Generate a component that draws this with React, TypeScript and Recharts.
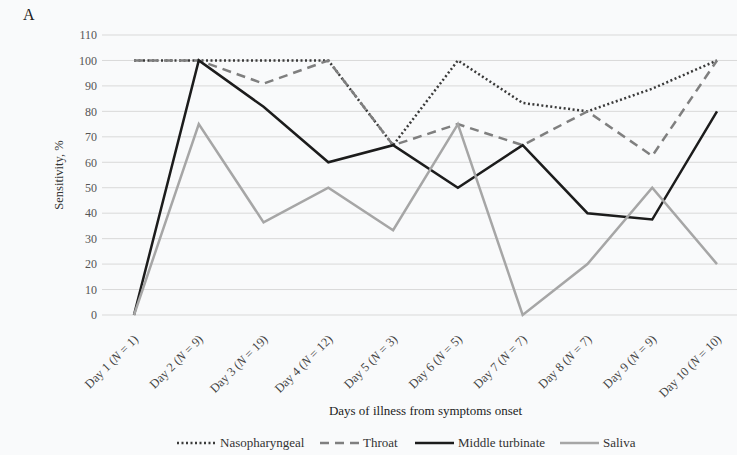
import React from "react";
import { LineChart, Line, CartesianGrid, XAxis, YAxis, Legend } from "recharts";

const days = [
  "Day 1 (N = 1)",
  "Day 2 (N = 9)",
  "Day 3 (N = 19)",
  "Day 4 (N = 12)",
  "Day 5 (N = 3)",
  "Day 6 (N = 5)",
  "Day 7 (N = 7)",
  "Day 8 (N = 7)",
  "Day 9 (N = 9)",
  "Day 10 (N = 10)",
];
const nasopharyngeal = [100, 100, 100, 100, 66.7, 100, 83.3, 80, 88.9, 100];
const throat = [100, 100, 90.9, 100, 66.7, 75, 66.7, 80, 62.5, 100];
const middleTurbinate = [0, 100, 81.8, 60, 66.7, 50, 66.7, 40, 37.5, 80];
const saliva = [0, 75, 36.4, 50, 33.3, 75, 0, 20, 50, 20];
const yTicks = [0, 10, 20, 30, 40, 50, 60, 70, 80, 90, 100, 110];

const series = [
  { key: "nasopharyngeal", name: "Nasopharyngeal", color: "#3a3a3a", dash: "2 2.5", width: 2.5, textW: 86 },
  { key: "throat", name: "Throat", color: "#7f7f7f", dash: "9 6", width: 2.5, textW: 38 },
  { key: "middleTurbinate", name: "Middle turbinate", color: "#1c1c1c", dash: undefined, width: 2.5, textW: 88 },
  { key: "saliva", name: "Saliva", color: "#a6a6a6", dash: undefined, width: 2.5, textW: 34 },
];

const data = days.map((day, i) => ({
  day,
  nasopharyngeal: nasopharyngeal[i],
  throat: throat[i],
  middleTurbinate: middleTurbinate[i],
  saliva: saliva[i],
}));

const FONT = "'Liberation Serif', 'DejaVu Serif', serif";

// Rotated day label with the italic N
const DayTick = (props: any) => {
  const { x, y, payload } = props;
  const parts = String(payload.value).split("N");
  return (
    <g transform={`translate(${x + 5},${y + 17}) rotate(-45)`}>
      <text textAnchor="end" fontFamily={FONT} fontSize={12.5} fill="#444">
        {parts[0]}
        <tspan fontStyle="italic">N</tspan>
        {parts[1]}
      </text>
    </g>
  );
};

// Legend drawn as svg so it shares the chart's text rendering
const LegendBox = () => {
  let cx = 0;
  const items = series.map((s) => {
    const x0 = cx;
    cx += 40 + 4 + s.textW + 13;
    return (
      <g key={s.key} transform={`translate(${x0},0)`}>
        <line
          x1={0}
          y1={10}
          x2={39}
          y2={10}
          stroke={s.color}
          strokeWidth={s.width}
          strokeDasharray={s.dash}
        />
        <text x={43} y={14} fontFamily={FONT} fontSize={13} fill="#333">
          {s.name}
        </text>
      </g>
    );
  });
  return (
    <svg width={520} height={20} style={{ display: "block" }}>
      {items}
    </svg>
  );
};

export default function App() {
  return (
    <div
      style={{
        position: "fixed",
        top: 0,
        left: 0,
        width: 737,
        height: 455,
        overflow: "hidden",
        background: "#f9fafb",
        fontFamily: FONT,
      }}
    >
      <div
        style={{
          position: "absolute",
          left: 23,
          top: 6,
          fontSize: 16,
          color: "#222",
        }}
      >
        A
      </div>
      <LineChart
        width={760}
        height={455}
        data={data}
        margin={{ top: 35, right: 11, bottom: 0, left: 0 }}
      >
        <CartesianGrid vertical={false} stroke="#d9d9d9" strokeWidth={1} />
        <XAxis
          dataKey="day"
          axisLine={false}
          tickLine={false}
          interval={0}
          height={118}
          padding={{ left: 32, right: 32 }}
          tick={<DayTick />}
          label={{
            value: "Days of illness from symptoms onset",
            position: "insideBottom",
            offset: 18,
            fontFamily: FONT,
            fontSize: 13,
            fill: "#222",
          }}
        />
        <YAxis
          width={102}
          domain={[0, 110]}
          ticks={yTicks}
          interval={0}
          axisLine={false}
          tickLine={false}
          tickSize={0}
          tickMargin={5}
          tick={{ fontFamily: FONT, fontSize: 12, fill: "#555" }}
          label={{
            content: () => (
              <text
                transform="translate(63,175) rotate(-90)"
                textAnchor="middle"
                fontFamily={FONT}
                fontSize={12.5}
                fill="#333"
              >
                Sensitivity, %
              </text>
            ),
          }}
        />
        <Legend
          verticalAlign="bottom"
          height={22}
          content={<LegendBox />}
          wrapperStyle={{ left: 177, width: 520, bottom: 0 }}
        />
        {series.map((s) => (
          <Line
            key={s.key}
            type="linear"
            dataKey={s.key}
            name={s.name}
            stroke={s.color}
            strokeWidth={s.width}
            strokeDasharray={s.dash}
            dot={false}
            activeDot={false}
            isAnimationActive={false}
          />
        ))}
      </LineChart>
    </div>
  );
}
